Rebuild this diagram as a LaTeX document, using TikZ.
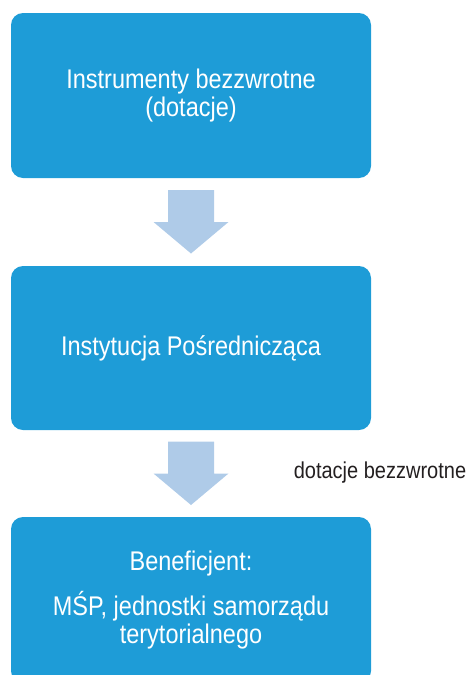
\documentclass[tikz,border=0pt]{standalone}
\usepackage{fontspec}
\setmainfont{Liberation Sans}[FakeStretch=0.87]
\usetikzlibrary{calc}
\definecolor{boxblue}{HTML}{1E9CD7}
\definecolor{arrowblue}{HTML}{AFCBE8}
\definecolor{labelgray}{HTML}{231F20}
\tikzset{
  box/.style={fill=boxblue, rounded corners=12pt, minimum width=360pt, text=white,
    align=center, inner sep=0pt, font=\fontsize{27}{28}\selectfont},
  lbl/.style={text=labelgray, inner sep=0pt, font=\fontsize{23}{26}\selectfont},
  darrow/.pic={\fill[arrowblue] (-23,32) -- (23,32) -- (23,0) -- (37.5,0) -- (0,-31.5) -- (-37.5,0) -- (-23,0) -- cycle;}
}
\begin{document}
\begin{tikzpicture}[x=1pt,y=1pt]
\useasboundingbox (0,0) rectangle (469,-675);
\node[box, minimum height=165pt] (b1) at (191,-95.5) {Instrumenty bezzwrotne\\(dotacje)};
\node[box, minimum height=164pt] (b2) at (191,-348) {Instytucja Pośrednicząca};
\node[box, minimum height=166pt] (b3) at (191,-600) {Beneficjent:\\[14pt]MŚP, jednostki samorządu\\terytorialnego};
\path ($(b1.south)!0.5!(b2.north)$) pic {darrow};
\path ($(b2.south)!0.5!(b3.north)$) pic {darrow};
\node[lbl] (l) at (380,-473) {dotacje bezzwrotne};
\end{tikzpicture}
\end{document}
